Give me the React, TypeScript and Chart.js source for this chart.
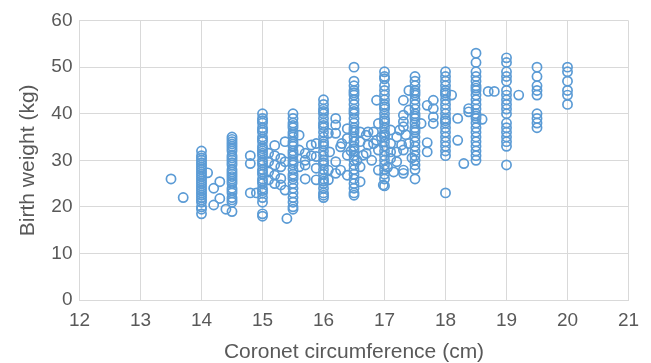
import React, { useEffect, useRef } from "react";
import { Chart, registerables } from "chart.js";

Chart.register(...registerables);

// Column values (circumference measured at half-cm steps)
const columnX = [14, 14.5, 15, 15.5, 16, 16.5, 17, 17.5, 18, 18.5, 19, 19.5, 20];
const w140 = [32, 31, 30.5, 30, 29.5, 29, 28.5, 28, 27.5, 27, 26.5, 26, 25.5, 25, 24.5, 24, 23.5, 23, 22.5, 22, 21.5, 21, 20, 19.5, 18.5];
const w145 = [35, 34.5, 34, 33.5, 33, 32.5, 32, 31, 30.5, 30, 29.5, 29, 28, 27.5, 27, 26.5, 26, 25.5, 25, 24, 23.5, 23, 22, 21.5, 21, 19];
const w150 = [40, 39, 38.5, 38, 37, 36.5, 36, 35, 34.5, 34, 33, 32.5, 32, 31.5, 31, 30, 29.5, 29, 28, 27.5, 27, 26, 25.5, 25, 24, 23.5, 23, 22, 21, 18.5, 18];
const w155 = [40, 39, 38, 37.5, 37, 36, 35.5, 35, 34, 33.5, 33, 32, 31.5, 31, 30, 29.5, 29, 28, 27, 26.5, 26, 25, 24, 23, 22, 21, 20, 19.5];
const w160 = [43, 42, 41, 40.5, 40, 39, 38, 37.5, 37, 36, 35, 34, 33.5, 33, 32, 31, 30, 29.5, 29, 28, 27, 26, 25.5, 25, 24, 23, 22.5, 22];
const w165 = [50, 47, 46, 45, 44.5, 44, 43, 42, 41, 40.5, 40, 39, 38, 37, 36.5, 36, 35, 34, 33, 32.5, 32, 31, 30, 29, 28, 27, 26, 25, 24, 23, 22.5];
const w170 = [49, 48, 47.5, 46, 45, 44, 43, 42, 41.5, 41, 40, 39, 38.5, 38, 37, 36, 35.5, 35, 34, 33, 32, 31, 30, 29, 28, 27, 26, 24.5];
const w175 = [48, 47, 46, 45, 44.5, 44, 43, 42, 41, 40, 39.5, 39, 38, 37, 36.5, 36, 35, 34, 33, 32, 31, 30, 29, 28, 26];
const w180 = [49, 48, 47, 46, 45, 44.5, 44, 43, 42, 41, 40, 39, 38.5, 38, 37, 36, 35, 34, 33, 32, 31, 23];
const w185 = [53, 51, 49, 48, 47, 46, 45.5, 45, 44, 43, 42, 41, 40, 39.5, 39, 38, 37, 36, 35, 34, 33, 32, 31, 30];
const w190 = [52, 51, 49, 48, 47, 45, 44, 43, 42, 41, 40, 38, 37, 36, 35, 34, 33, 29];
const w195 = [50, 48, 46, 45, 44, 40, 39, 38, 37];
const w200 = [50, 49, 47, 45, 44, 42];
const columnWeights = [w140, w145, w150, w155, w160, w165, w170, w175, w180, w185, w190, w195, w200];

// Individual points between the columns
const scatterX = [
  13.5, 13.7,
  14.1, 14.3, 14.2, 14.3, 14.2, 14.4,
  14.8, 14.8, 14.8, 14.9,
  15.1, 15.1, 15.1, 15.1,
  15.2, 15.2, 15.2, 15.2, 15.2,
  15.3, 15.3, 15.3, 15.3,
  15.37, 15.37, 15.37,
  15.4,
  15.6, 15.6, 15.6,
  15.7, 15.7, 15.7, 15.7,
  15.8, 15.8,
  15.88, 15.88, 15.88, 15.88,
  16.08, 16.08, 16.08,
  16.1,
  16.2, 16.2, 16.2, 16.2, 16.2,
  16.28, 16.28,
  16.3,
  16.39, 16.39, 16.39, 16.39,
  16.45, 16.55,
  16.6, 16.6, 16.6, 16.6,
  16.65, 16.7, 16.7,
  16.73, 16.73,
  16.79,
  16.82, 16.82,
  16.87, 16.87,
  16.9, 16.9, 16.9,
  16.95, 16.98,
  17.05,
  17.1, 17.1, 17.1, 17.1,
  17.15,
  17.2, 17.2, 17.2,
  17.25, 17.28,
  17.31, 17.31, 17.31, 17.31, 17.31, 17.31, 17.31,
  17.35,
  17.4, 17.4, 17.4,
  17.45, 17.6,
  17.7, 17.7, 17.7,
  17.8, 17.8, 17.8, 17.8,
  18.1, 18.2, 18.2, 18.3,
  18.38, 18.38,
  18.6, 18.7, 18.8, 19.2,
];
const scatterY = [
  26, 22,
  27.3, 25.4, 24, 21.8, 20.4, 19.5,
  31, 29.3, 23, 23,
  31.5, 29.7, 27.5, 25.8,
  33.2, 31, 29, 26.8, 25,
  30.4, 28.6, 26.1, 24.7,
  29.7, 34, 23.6,
  17.5,
  35.4, 32.2, 28.6,
  31.5, 30, 26, 29,
  31, 33.3,
  25.8, 33.6, 28.3, 30.8,
  35.8, 27.9, 25.8,
  31.8,
  39, 37.6, 35.8, 29.7, 27.2,
  32.9, 27.9,
  33.6,
  36.8, 34.7, 31.1, 26.8,
  32, 30,
  36.1, 34, 28.6, 25.4,
  31.1, 35.4, 31.5,
  36.1, 33.3,
  30,
  36.1, 33.6,
  34.3, 42.9,
  37.9, 27.9, 32.2,
  35, 24.7,
  28.5,
  36.5, 33.6, 31.8, 30.4,
  27.5,
  35, 31.8, 29.7,
  36.5, 33.3,
  42.9, 39.7, 38.3, 37.2, 32.2, 27.9, 27.2,
  35.5,
  45, 40.8, 33.6,
  30.5, 37.9,
  33.8, 31.8, 41.8,
  42.9, 41.1, 39.3, 37.9,
  44, 39, 34.3, 29.3,
  41.1, 40.4,
  38.8, 44.8, 44.8, 44,
];

const xTicks = [12, 13, 14, 15, 16, 17, 18, 19, 20, 21];
const yTicks = [0, 10, 20, 30, 40, 50, 60];

export default function App() {
  const ref = useRef<HTMLCanvasElement | null>(null);

  useEffect(() => {
    if (!ref.current) return;
    const points: { x: number; y: number }[] = [];
    columnX.forEach((cx, i) => {
      columnWeights[i].forEach((w) => points.push({ x: cx, y: w }));
    });
    scatterX.forEach((sx, i) => points.push({ x: sx, y: scatterY[i] }));

    const grid = "#D9D9D9";
    const text = "#595959";
    const family = "'Liberation Sans', Arial, sans-serif";

    const chart = new Chart(ref.current, {
      type: "scatter",
      data: {
        datasets: [
          {
            data: points,
            pointRadius: 4.6,
            pointBorderWidth: 1.7,
            pointBorderColor: "#5B9BD5",
            pointBackgroundColor: "rgba(255,255,255,0)",
            pointHoverRadius: 4.6,
          },
        ],
      },
      options: {
        animation: false,
        responsive: false,
        maintainAspectRatio: false,
        layout: { padding: { top: 20.6, right: 22.5, left: 0, bottom: 0 } },
        plugins: { legend: { display: false }, tooltip: { enabled: false } },
        scales: {
          x: {
            type: "linear",
            min: xTicks[0],
            max: xTicks[xTicks.length - 1],
            afterBuildTicks: (s: any) => {
              s.ticks = xTicks.map((v) => ({ value: v }));
            },
            afterFit: (s: any) => {
              s.height = 63;
            },
            grid: { color: grid, lineWidth: 1, drawTicks: false },
            border: { color: grid, width: 1 },
            ticks: {
              color: text,
              font: { family, size: 19 },
              padding: 9,
              maxRotation: 0,
            },
            title: {
              display: true,
              text: "Coronet circumference (cm)",
              color: text,
              font: { family, size: 21, lineHeight: 1 },
              padding: { top: 0, bottom: 0 },
            },
          },
          y: {
            type: "linear",
            min: yTicks[0],
            max: yTicks[yTicks.length - 1],
            afterBuildTicks: (s: any) => {
              s.ticks = yTicks.map((v) => ({ value: v }));
            },
            afterFit: (s: any) => {
              s.width = 79.5;
            },
            grid: { color: grid, lineWidth: 1, drawTicks: false },
            border: { color: grid, width: 1 },
            ticks: {
              color: text,
              font: { family, size: 19 },
              padding: 7,
            },
            title: {
              display: true,
              text: "Birth weight (kg)",
              color: text,
              font: { family, size: 21, lineHeight: 1 },
              padding: { top: 17.5, bottom: 0 },
            },
          },
        },
      },
    });
    return () => chart.destroy();
  }, []);

  return (
    <div style={{ position: "fixed", left: 0, top: 0, width: 651, height: 363, background: "#fff" }}>
      <canvas ref={ref} width={651} height={363} style={{ display: "block", width: 651, height: 363 }} />
    </div>
  );
}
